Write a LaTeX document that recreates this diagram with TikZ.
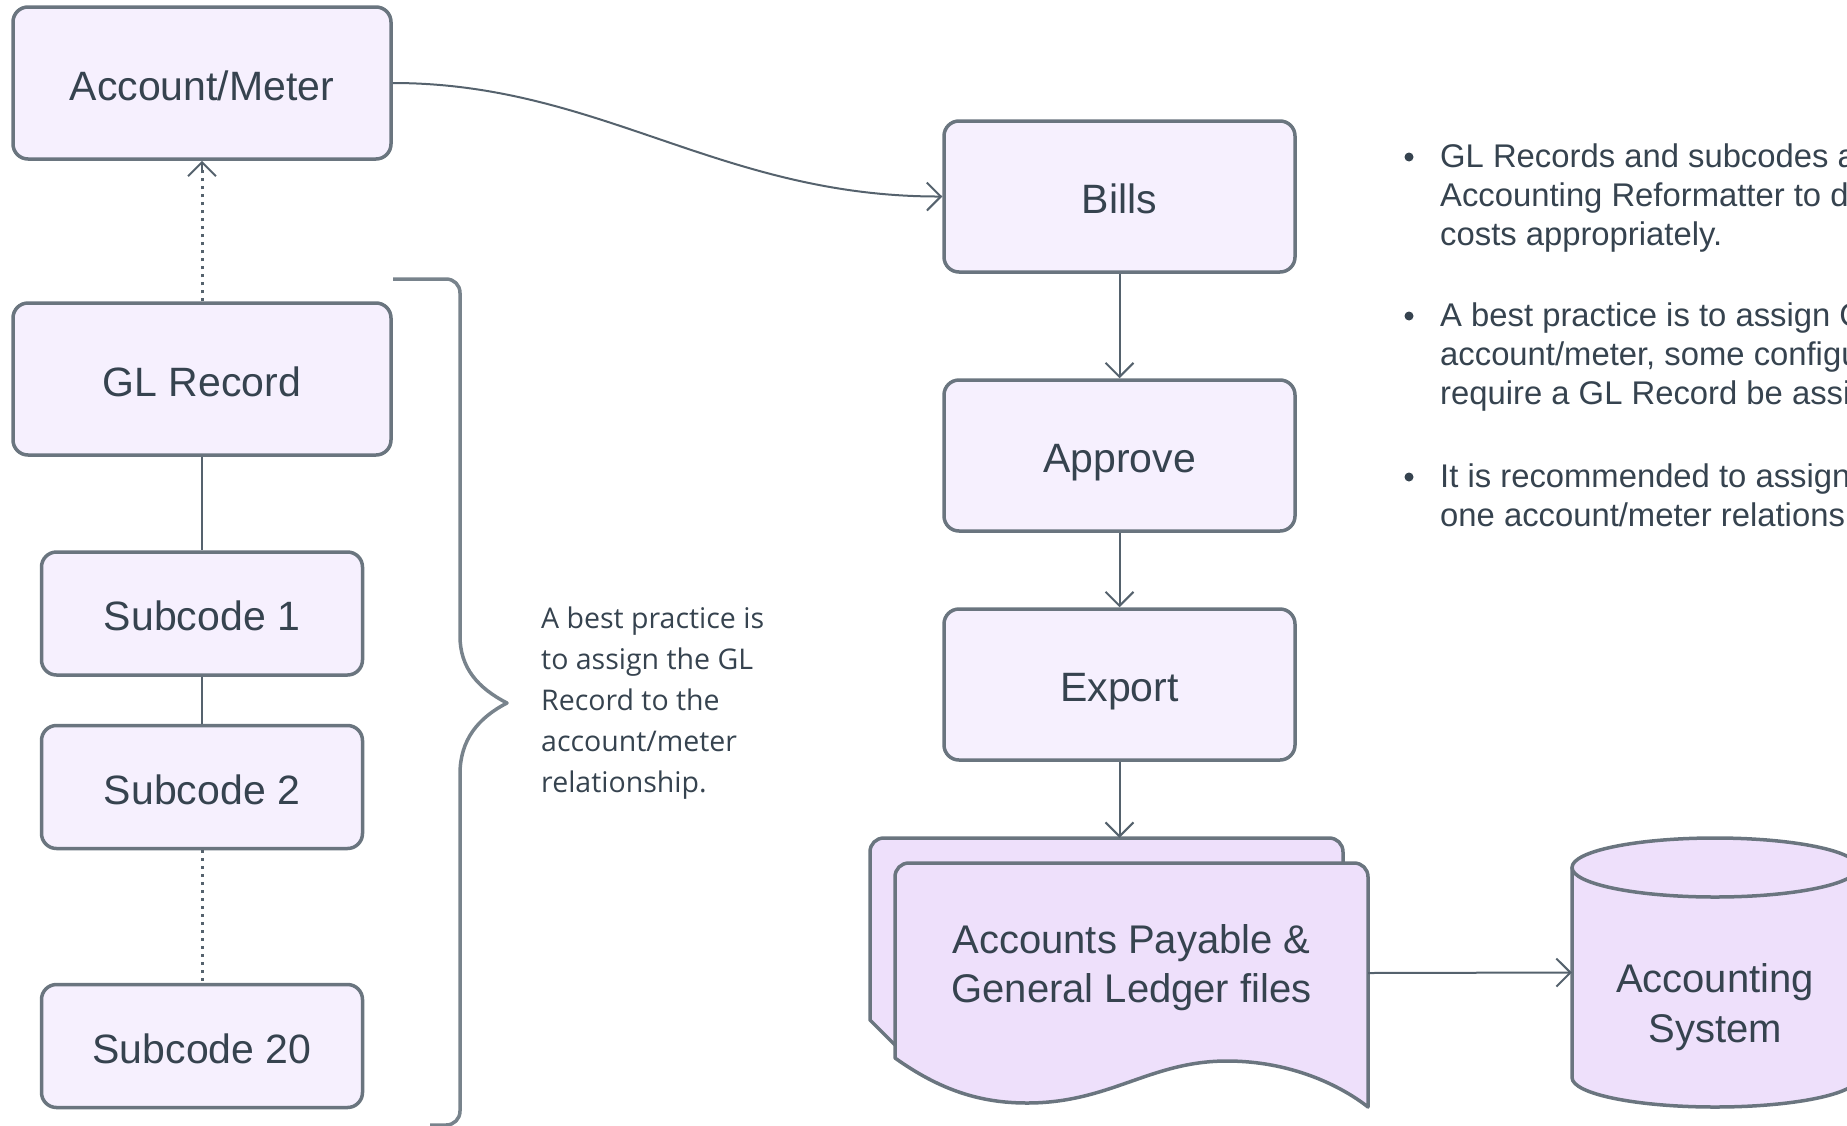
\documentclass[tikz,border=0pt]{standalone}
\usepackage{fontspec}
\setmainfont{Liberation Sans}
\newfontfamily\notefont{Open Sans}
\usetikzlibrary{arrows.meta}
\definecolor{boxfill}{HTML}{F6F0FE}
\definecolor{docfill}{HTML}{EEE0FB}
\definecolor{edge}{HTML}{6A757F}
\definecolor{txt}{HTML}{36434F}
\definecolor{conn}{HTML}{55626D}
\definecolor{brk}{HTML}{78838C}
\tikzset{
  box/.style={draw=edge, fill=boxfill, line width=3.5pt, rounded corners=15pt,
    inner sep=0pt, text=txt, font=\fontsize{41}{48}\selectfont,
    text height=34pt, text depth=0pt},
  bigbox/.style={minimum width=378pt, minimum height=152pt},
  subbox/.style={minimum width=321pt, minimum height=123pt},
  flowbox/.style={minimum width=351pt, minimum height=151pt},
  ghost/.style={inner sep=0pt, draw=none},
  link/.style={draw=conn, line width=2pt},
  arr/.style={link, -{Straight Barb[length=14pt,width=28pt,line width=2pt]}},
  dots/.style={draw=conn, line width=3pt, dash pattern=on 3pt off 5pt},
  docshape/.style={draw=edge, fill=docfill, line width=3.5pt, line join=round},
  bigtext/.style={inner sep=0pt, text=txt, font=\fontsize{40}{48}\selectfont, anchor=base},
  bullettext/.style={inner sep=0pt, text=txt, font=\fontsize{32.8}{39}\selectfont, anchor=base west},
  notetext/.style={inner sep=0pt, text=txt, font=\notefont\fontsize{28.5}{41}\selectfont, anchor=base west},
  bracket/.style={draw=brk, line width=3.5pt, line join=round}
}
\begin{document}
\begin{tikzpicture}[x=1pt, y=-1pt]
\useasboundingbox (0,0) rectangle (1847,1125);
\clip (0,0) rectangle (1847,1125);

% left column
\node[box,bigbox] (acct) at (202,83) {Account/Meter};
\node[box,bigbox] (gl) at (202,379) {GL Record};
\node[box,subbox] (s1) at (202,613.5) {Subcode 1};
\node[box,subbox] (s2) at (202,787) {Subcode 2};
\node[box,subbox] (s20) at (202,1046) {Subcode 20};

\draw[dots, shorten >=8pt] (gl.north) -- (acct.south);
\draw[arr] (acct.south) ++(0,12) -- (acct.south);
\draw[link] (gl.south) -- (s1.north);
\draw[link] (s1.south) -- (s2.north);
\draw[dots] (s2.south) -- (s20.north);

% bracket
\draw[bracket] (393,279) -- (446,279) .. controls (454,279) and (460,285) .. (460,293)
  -- (460,636) .. controls (460,668) and (478,688) .. (507,703)
  .. controls (478,718) and (460,740) .. (460,774)
  -- (460,1111) .. controls (460,1119) and (454,1125) .. (446,1125) -- (430,1125);

\node[notetext] (n1) at (541,628) {A best practice is};
\node[notetext] (n2) at (541,669) {to assign the GL};
\node[notetext] (n3) at (541,710) {Record to the};
\node[notetext] (n4) at (541,751) {account/meter};
\node[notetext] (n5) at (541,792) {relationship.};

% flow column
\node[box,flowbox] (bills) at (1119.5,196.5) {Bills};
\node[box,flowbox] (appr) at (1119.5,455.5) {Approve};
\node[box,flowbox] (exp) at (1119.5,684.5) {Export};

\draw[arr] (acct.east) .. controls (600,83) and (720,197) .. (bills.west);
\draw[arr] (bills.south) -- (appr.north);
\draw[arr] (appr.south) -- (exp.north);

% documents
\draw[docshape] (1343,890) -- (1343,852) .. controls (1343,844) and (1337,838) .. (1329,838)
  -- (884,838) .. controls (876,838) and (870,844) .. (870,852)
  -- (870,1020) -- (895,1045) -- cycle;
\draw[docshape] (895,1058) -- (895,877) .. controls (895,869) and (901,863) .. (909,863)
  -- (1354,863) .. controls (1362,863) and (1368,869) .. (1368,877)
  -- (1368,1107) .. controls (1340,1085) and (1290,1061) .. (1227,1061)
  .. controls (1150,1061) and (1110,1103) .. (1027,1103)
  .. controls (980,1103) and (940,1090) .. (895,1058) -- cycle;
\node[ghost, minimum width=473pt, minimum height=200pt] (docb) at (1106.5,938) {};
\node[ghost, minimum width=473pt, minimum height=200pt] (docf) at (1131.5,973) {};
\node[bigtext] (d1) at (1131.5,953) {Accounts Payable \&};
\node[bigtext] (d2) at (1131.5,1002) {General Ledger files};

\draw[arr] (exp.south) -- (exp.south |- docb.north);

% cylinder
\draw[docshape] (1572,867.5) -- (1572,1077.5)
  .. controls (1572,1093.8) and (1636,1107) .. (1715,1107)
  .. controls (1794,1107) and (1858,1093.8) .. (1858,1077.5)
  -- (1858,867.5) -- cycle;
\draw[docshape] (1715,867.5) ellipse [x radius=143, y radius=29.5];
\node[ghost, minimum width=286pt, minimum height=220pt] (acc) at (1715,972.5) {};
\node[bigtext] (c1) at (1715,992) {Accounting};
\node[bigtext] (c2) at (1715,1042) {System};

\draw[arr] (docf.east) -- (acc.west);

% bullets
\foreach \yy in {157, 316, 477}{
  \fill[txt] (1409,\yy) circle[radius=4.5];
}
\node[bullettext] (b1) at (1440,167) {GL Records and subcodes are used by the};
\node[bullettext] (b2) at (1440,206) {Accounting Reformatter to distribute};
\node[bullettext] (b3) at (1440,245) {costs appropriately.};
\node[bullettext] (b4) at (1440,326) {A best practice is to assign GL Records to the};
\node[bullettext] (b5) at (1440,365) {account/meter, some configurations};
\node[bullettext] (b6) at (1440,404) {require a GL Record be assigned.};
\node[bullettext] (b7) at (1440,487) {It is recommended to assign only};
\node[bullettext] (b8) at (1440,526) {one account/meter relationship.};
\end{tikzpicture}
\end{document}
